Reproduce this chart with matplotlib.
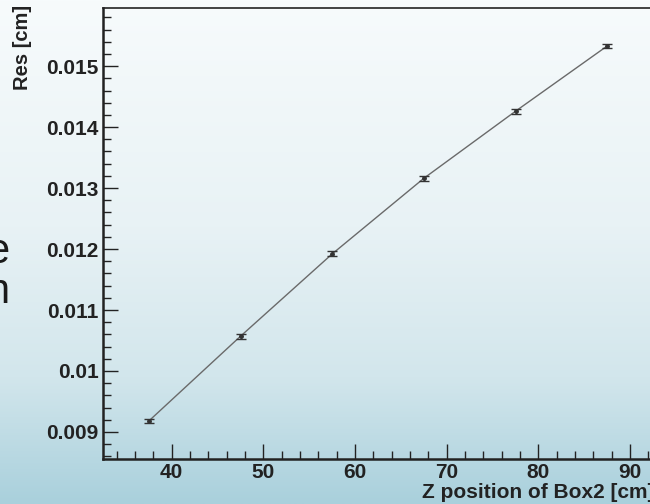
import numpy as np
import matplotlib.pyplot as plt
from matplotlib.colors import LinearSegmentedColormap
from matplotlib.ticker import MultipleLocator

z_pos = [37.5, 47.5, 57.5, 67.5, 77.5, 87.5]
res = [0.00918, 0.01057, 0.01192, 0.01316, 0.01426, 0.01533]
res_err = [0.00004, 0.00004, 0.00004, 0.00004, 0.00004, 0.00004]

plt.rcParams['font.family'] = ['Liberation Sans', 'DejaVu Sans']
plt.rcParams['font.weight'] = 'bold'

fig = plt.figure(figsize=(6.5, 5.04), dpi=100)

# slide background gradient
bg = fig.add_axes([0, 0, 1, 1], zorder=-10)
cmap = LinearSegmentedColormap.from_list(
    'slide', [(0.0, '#f7fbfc'), (0.45, '#e8f2f5'), (0.75, '#d2e6ec'), (1.0, '#a9d0dc')])
bg.imshow(np.linspace(0, 1, 256).reshape(-1, 1), aspect='auto', cmap=cmap,
          extent=[0, 1, 0, 1], origin='upper')
bg.axis('off')

# clipped slide text on the left
fig.text(9 / 650, 1 - 252 / 504, 'e', ha='right', va='center', fontsize=30,
         color='#1a1a1a', fontweight='normal')
fig.text(9 / 650, 1 - 292 / 504, 'n', ha='right', va='center', fontsize=30,
         color='#1a1a1a', fontweight='normal')

ax = fig.add_axes([103 / 650, 1 - 458.5 / 504, 550 / 650, 450 / 504])
ax.patch.set_alpha(0)

ax.plot(z_pos, res, color='#6a6a6a', lw=1.0)
ax.errorbar(z_pos, res, yerr=res_err, fmt='o', ms=2.5, color='#333333',
            ecolor='#333333', elinewidth=1, capsize=3.5, capthick=1)

ax.set_xlim(32.5, 92.5)
ax.set_ylim(0.008565, 0.015945)

ax.xaxis.set_major_locator(MultipleLocator(10))
ax.xaxis.set_minor_locator(MultipleLocator(2))
ax.yaxis.set_minor_locator(MultipleLocator(0.0002))
ax.set_yticks([0.009, 0.01, 0.011, 0.012, 0.013, 0.014, 0.015])
ax.set_yticklabels(['0.009', '0.01', '0.011', '0.012', '0.013', '0.014', '0.015'])

ax.tick_params(which='both', direction='in', top=False, right=False,
               colors='#222222', labelsize=15, width=1)
ax.tick_params(which='major', length=11)
ax.tick_params(which='minor', length=5.5)
ax.tick_params(axis='x', pad=3)
ax.tick_params(axis='y', pad=3)

for s in ['left', 'bottom']:
    ax.spines[s].set_linewidth(1.8)
    ax.spines[s].set_color('#222222')
ax.spines['top'].set_linewidth(1.2)
ax.spines['top'].set_color('#222222')
ax.spines['right'].set_visible(False)

fig.text(654 / 650, 1 - 493 / 504, 'Z position of Box2 [cm]', ha='right', va='center',
         fontsize=15, color='#222222', fontweight='bold')
fig.text(22 / 650, 1 - 5 / 504, 'Res [cm]', rotation=90, ha='center', va='top',
         fontsize=14.5, color='#222222', fontweight='bold')

fig.savefig('out.png', dpi=100)
